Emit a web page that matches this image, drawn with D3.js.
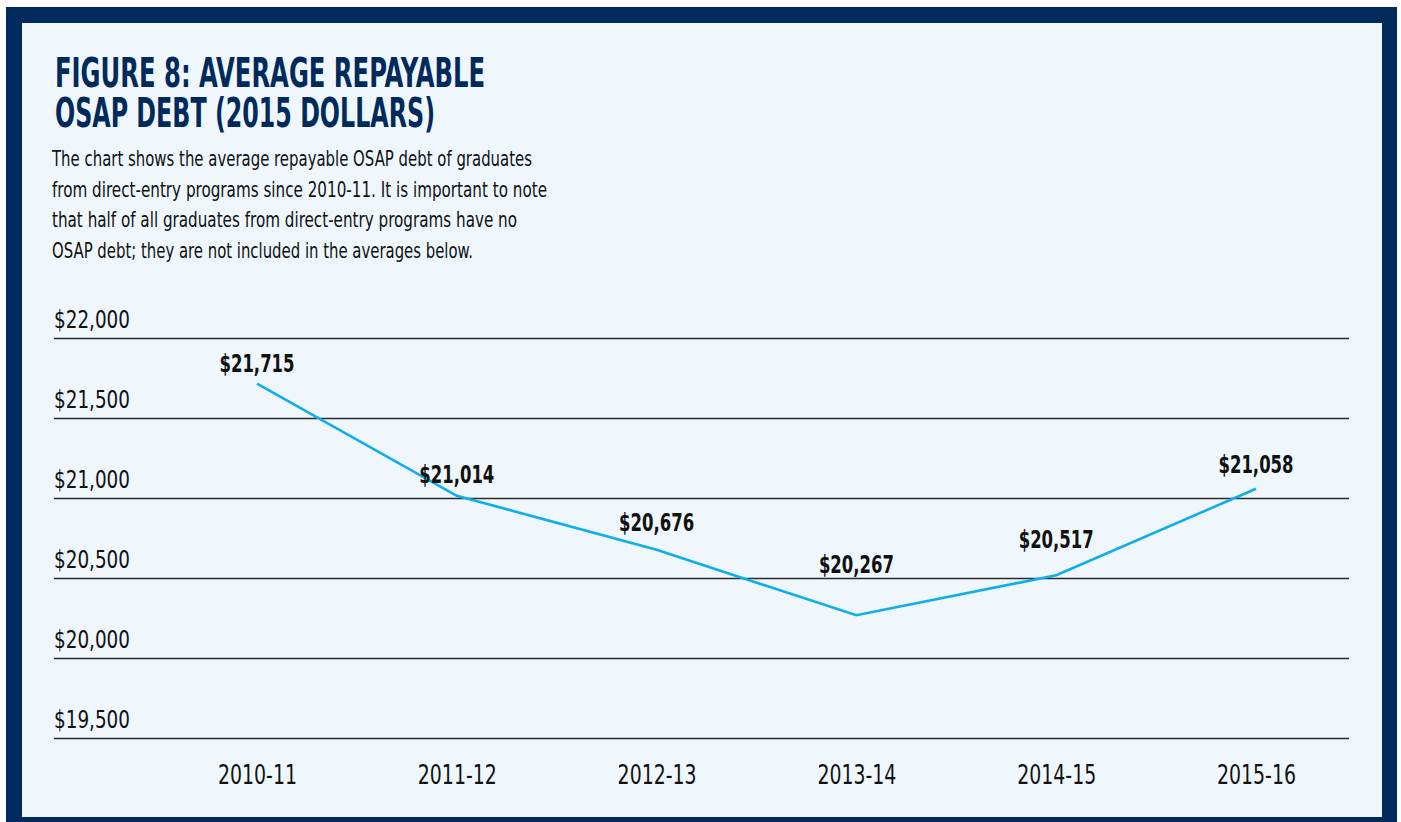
<!DOCTYPE html>
<html>
<head>
<meta charset="utf-8">
<script src="https://cdn.jsdelivr.net/npm/d3@7"></script>
<style>
  html, body { margin: 0; padding: 0; background: #fff; }
  svg { display: block; }
</style>
</head>
<body>
<svg id="chart"></svg>
<script>
// Data
const years = ["2010-11", "2011-12", "2012-13", "2013-14", "2014-15", "2015-16"];
const debt = [21715, 21014, 20676, 20267, 20517, 21058];
const yTicks = [19500, 20000, 20500, 21000, 21500, 22000];
const titleLines = ["FIGURE 8: AVERAGE REPAYABLE", "OSAP DEBT (2015 DOLLARS)"];
const noteLines = [
    "The chart shows the average repayable OSAP debt of graduates",
    "from direct-entry programs since 2010-11. It is important to note",
    "that half of all graduates from direct-entry programs have no",
    "OSAP debt; they are not included in the averages below."
];

// Layout (not data): how far each value label sits above its point
const labelGap = [12, 13, 19, 42, 27, 16];

const width = 1401;
const height = 822;
const navy = "#002a5c";
const ink = "#111";
const narrow = "'DejaVu Sans Condensed', 'DejaVu Sans', sans-serif";

const svg = d3.select("#chart")
    .attr("width", width)
    .attr("height", height);

// squeeze text to the width it has in the original condensed face
function squeeze(sel, w) {
    sel.attr("textLength", w).attr("lengthAdjust", "spacingAndGlyphs");
}

// Frame
svg.append("rect")
    .attr("x", 6).attr("y", 7)
    .attr("width", 1391).attr("height", 815)
    .attr("fill", navy);
svg.append("rect")
    .attr("x", 22).attr("y", 23)
    .attr("width", 1360).attr("height", 794)
    .attr("fill", "#eff7fd");

// Title
const titleWidths = [430, 380];
titleLines.forEach((t, i) => {
    svg.append("text")
        .attr("x", 55)
        .attr("y", 87 + i * 40)
        .attr("font-family", narrow)
        .attr("font-weight", "bold")
        .attr("font-size", "40px")
        .attr("fill", navy)
        .text(t)
        .call(squeeze, titleWidths[i]);
});

// Note paragraph
const noteWidths = [480, 495, 465, 421];
noteLines.forEach((t, i) => {
    svg.append("text")
        .attr("x", 52)
        .attr("y", 166 + i * 30.7)
        .attr("font-family", narrow)
        .attr("font-size", "21px")
        .attr("fill", ink)
        .text(t)
        .call(squeeze, noteWidths[i]);
});

// Scales
const x = d3.scalePoint()
    .domain(years)
    .range([257, 1256]);

const y = d3.scaleLinear()
    .domain([19500, 22000])
    .range([738, 338]);

const money = d => "$" + d3.format(",")(d);

// Gridlines + y labels
const yAxis = d3.axisLeft(y)
    .tickValues(yTicks)
    .tickSize(-(1349 - 54))
    .tickFormat(money);

const gy = svg.append("g")
    .attr("transform", "translate(54,0)")
    .call(yAxis);
gy.select(".domain").remove();
gy.selectAll(".tick line")
    .attr("stroke", "#2a2a2a")
    .attr("stroke-width", 1.4);
gy.selectAll(".tick text")
    .attr("x", 0)
    .attr("dy", -11)
    .attr("text-anchor", "start")
    .attr("font-family", narrow)
    .attr("font-size", "25px")
    .attr("fill", ink)
    .call(squeeze, 76);

// X labels
const xAxis = d3.axisBottom(x).tickSize(0);
const gx = svg.append("g")
    .attr("transform", "translate(0,738)")
    .call(xAxis);
gx.select(".domain").remove();
gx.selectAll(".tick text")
    .attr("y", 46)
    .attr("dy", 0)
    .attr("font-family", narrow)
    .attr("font-size", "26px")
    .attr("fill", ink)
    .call(squeeze, 79);

// Line
const line = d3.line()
    .x((d, i) => x(years[i]))
    .y(d => y(d));

svg.append("path")
    .datum(debt)
    .attr("d", line)
    .attr("fill", "none")
    .attr("stroke", "#0faeea")
    .attr("stroke-width", 2.6);

// Value labels
svg.selectAll(".val")
    .data(debt)
    .join("text")
    .attr("class", "val")
    .attr("x", (d, i) => x(years[i]))
    .attr("y", (d, i) => y(d) - labelGap[i])
    .attr("text-anchor", "middle")
    .attr("font-family", narrow)
    .attr("font-weight", "bold")
    .attr("font-size", "24px")
    .attr("fill", ink)
    .text(money)
    .call(squeeze, 75);
</script>
</body>
</html>
